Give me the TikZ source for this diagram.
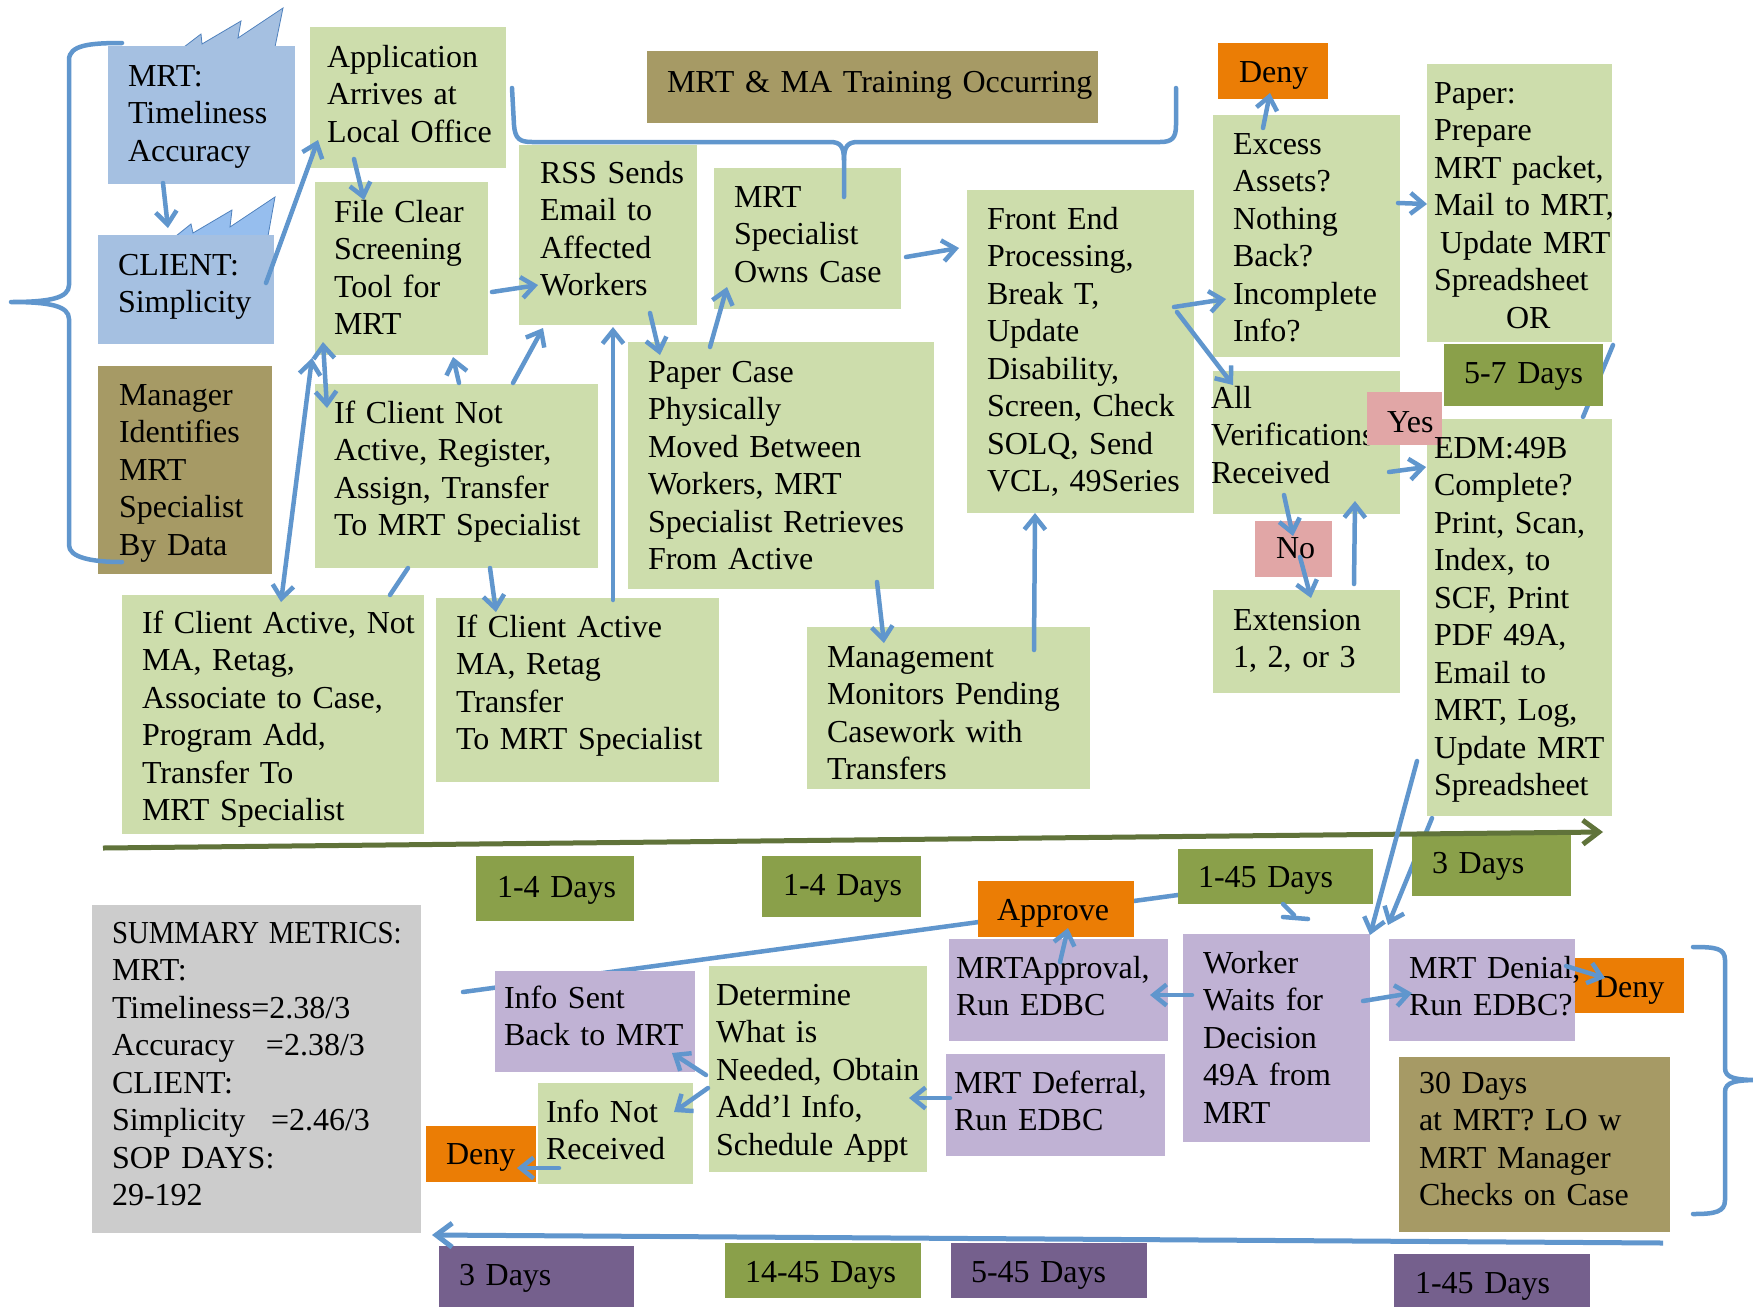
\documentclass[tikz,border=0pt]{standalone}
\usepackage{fontspec}
\setmainfont{Liberation Serif}
\usepackage{graphicx}
\usetikzlibrary{arrows.meta,fit}
\pgfdeclarelayer{under}
\pgfdeclarelayer{bg}
\pgfsetlayers{under,bg,main}
\hyphenpenalty=10000

\definecolor{lgreen}{RGB}{205,221,172}
\definecolor{lblue}{RGB}{165,192,225}
\definecolor{sblue}{RGB}{150,190,238}
\definecolor{eblue}{RGB}{79,129,189}
\definecolor{khaki}{RGB}{166,154,101}
\definecolor{orng}{RGB}{235,125,5}
\definecolor{pink}{RGB}{225,166,166}
\definecolor{dgreen}{RGB}{138,160,74}
\definecolor{lpurple}{RGB}{192,178,212}
\definecolor{dpurple}{RGB}{117,96,141}
\definecolor{lgray}{RGB}{204,204,204}
\definecolor{ablue}{RGB}{96,150,205}
\definecolor{tgreen}{RGB}{96,115,58}

% box given by two corners, text given by first baseline
\newcommand\bx[6]{\node[#1, fit={(#3,#4)(#5,#6)}] (#2) {};}
\newcommand\tx[4]{\node[txt] (#1) at (#2,#3) {#4};}
\newcommand\ar[5]{\draw[#1] ([shift={(#3)}]#2.north west) -- ([shift={(#5)}]#4.north west);}

\begin{document}
\begin{tikzpicture}[x=1pt,y=-1pt,
  panel/.style={rectangle, inner sep=0pt, outer sep=0pt, draw=none},
  gbox/.style={panel, fill=lgreen},
  bbox/.style={panel, fill=lblue},
  kbox/.style={panel, fill=khaki},
  obox/.style={panel, fill=orng},
  pkbox/.style={panel, fill=pink},
  dgbox/.style={panel, fill=dgreen},
  lpbox/.style={panel, fill=lpurple},
  dpbox/.style={panel, fill=dpurple},
  grbox/.style={panel, fill=lgray},
  txt/.style={inner sep=0pt, outer sep=0pt, anchor=base west, text width=700pt, align=left,
    font=\fontsize{32pt}{37.5pt}\selectfont},
  barb/.tip={Straight Barb[length=13pt,width=21pt]},
  bigbarb/.tip={Straight Barb[length=16pt,width=24pt]},
  arr/.style={draw=ablue, line width=4.5pt, line cap=round, line join=round, -barb},
  arr2/.style={draw=ablue, line width=4.5pt, line cap=round, line join=round, barb-barb},
  link/.style={draw=ablue, line width=4.5pt, line cap=round, line join=round},
  brace/.style={draw=ablue, line width=4.5pt, line cap=round, line join=round},
]
\useasboundingbox (0,0) rectangle (1753,1307);
\begin{pgfonlayer}{under}
  \fill[white] (0,0) rectangle (1753,1307);
\end{pgfonlayer}

% jagged tabs above the two blue rating boxes
\filldraw[fill=lblue, draw=eblue, line width=0.8pt]
  (184,47) -- (201,34) -- (202,44) -- (241,21) -- (238,38) -- (283,8) -- (275,47) -- cycle;
\filldraw[fill=sblue, draw=eblue, line width=0.8pt]
  (176,236) -- (191,224) -- (193,233) -- (232,210) -- (230,227) -- (275,197) -- (268,236) -- cycle;

% ---------- boxes ----------
\bx{bbox}{mrt}{108}{46}{295}{184}
\bx{bbox}{client}{98}{235}{274}{344}
\bx{kbox}{manager}{98}{366}{272}{574}
\bx{gbox}{app}{310}{27}{506}{168}
\bx{gbox}{fileclear}{315}{182}{488}{355}
\bx{gbox}{notactive}{315}{384}{598}{568}
\bx{gbox}{rss}{519}{145}{697}{325}
\bx{kbox}{training}{647}{51}{1098}{123}
\bx{gbox}{mrtspec}{714}{168}{901}{309}
\bx{gbox}{papercase}{628}{342}{934}{589}
\bx{gbox}{frontend}{967}{190}{1194}{513}
\bx{obox}{denytop}{1218}{43}{1328}{99}
\bx{gbox}{excess}{1213}{115}{1400}{357}
\bx{gbox}{paperbox}{1427}{64}{1612}{342}
\bx{dgbox}{days57}{1444}{344}{1603}{406}
\bx{gbox}{allverif}{1213}{371}{1400}{514}
\bx{gbox}{edm}{1427}{419}{1612}{816}
\bx{pkbox}{no}{1255}{521}{1332}{577}
\bx{gbox}{extension}{1213}{590}{1400}{693}
\bx{gbox}{activenotma}{122}{595}{424}{834}
\bx{gbox}{activema}{436}{598}{719}{782}
\bx{gbox}{mgmt}{807}{627}{1090}{789}
\bx{dgbox}{days14a}{476}{856}{634}{921}
\bx{dgbox}{days14b}{762}{856}{921}{917}
\bx{dgbox}{days145a}{1178}{849}{1373}{904}
\bx{dgbox}{days3a}{1412}{835}{1571}{896}
\bx{grbox}{summary}{92}{905}{421}{1233}
\bx{obox}{approve}{978}{881}{1134}{937}
\bx{lpbox}{mrtapproval}{949}{939}{1168}{1041}
\bx{lpbox}{worker}{1183}{934}{1370}{1142}
\bx{lpbox}{denial}{1389}{939}{1575}{1041}
\bx{obox}{denyr}{1575}{958}{1684}{1013}
\bx{kbox}{thirty}{1399}{1057}{1670}{1232}
\bx{lpbox}{deferral}{946}{1054}{1165}{1156}
\bx{gbox}{determine}{709}{966}{927}{1172}
\bx{lpbox}{infosent}{495}{971}{695}{1072}
\bx{gbox}{infonot}{538}{1083}{693}{1184}
\bx{obox}{denyl}{426}{1126}{536}{1182}
\bx{dpbox}{days3b}{439}{1246}{634}{1307}
\bx{dgbox}{days1445}{725}{1243}{921}{1298}
\bx{dpbox}{days545}{951}{1243}{1147}{1298}
\bx{dpbox}{days145b}{1394}{1254}{1590}{1307}

% ---------- texts ----------
\tx{mrt-t}{128}{86}{MRT:\\Timeliness\\Accuracy}
\tx{client-t}{118}{275}{CLIENT:\\Simplicity}
\tx{manager-t}{119}{405}{Manager\\Identifies\\MRT\\Specialist\\By Data}
\tx{app-t}{327}{67}{Application\\Arrives at\\Local Office}
\tx{fileclear-t}{334}{222}{File Clear\\Screening\\Tool for\\MRT}
\tx{notactive-t}{334}{423}{If Client Not\\Active, Register,\\Assign, Transfer\\To MRT Specialist}
\tx{rss-t}{540}{183}{RSS Sends\\Email to\\Affected\\Workers}
\tx{training-t}{667}{92}{MRT \& MA Training Occurring}
\tx{mrtspec-t}{734}{207}{MRT\\Specialist\\Owns Case}
\tx{papercase-t}{648}{382}{Paper Case\\Physically\\Moved Between\\Workers, MRT\\Specialist Retrieves\\From Active}
\tx{frontend-t}{987}{229}{Front End\\Processing,\\Break T,\\Update\\Disability,\\Screen, Check\\SOLQ, Send\\VCL, 49Series}
\tx{denytop-t}{1239}{82}{Deny}
\tx{excess-t}{1233}{154}{Excess\\Assets?\\Nothing\\Back?\\Incomplete\\Info?}
\tx{paperbox-t}{1434}{103}{Paper:\\Prepare\\MRT packet,\\Mail to MRT,\\\hspace*{6pt}Update MRT\\Spreadsheet\\\hspace*{72pt}OR}
\tx{days57-t}{1464}{383}{5-7 Days}
\tx{allverif-t}{1211}{408}{All\\Verifications\\Received}
\bx{pkbox}{yes}{1367}{392}{1442}{445}
\tx{yes-t}{1387}{432}{Yes}
\tx{edm-t}{1434}{458}{EDM:49B\\Complete?\\Print, Scan,\\Index, to\\SCF, Print\\PDF 49A,\\Email to\\MRT, Log,\\Update MRT\\Spreadsheet}
\tx{no-t}{1276}{558}{No}
\tx{extension-t}{1233}{630}{Extension\\1, 2, or 3}
\tx{activenotma-t}{142}{633}{If Client Active, Not\\MA, Retag,\\Associate to Case,\\Program Add,\\Transfer To\\MRT Specialist}
\tx{activema-t}{456}{637}{If Client Active\\MA, Retag\\Transfer\\To MRT Specialist}
\tx{mgmt-t}{827}{667}{Management\\Monitors Pending\\Casework with\\Transfers}
\tx{days14a-t}{497}{897}{1-4 Days}
\tx{days14b-t}{783}{895}{1-4 Days}
\tx{days145a-t}{1198}{887}{1-45 Days}
\tx{days3a-t}{1432}{873}{3 Days}
\tx{summary-t}{112}{943}{\scalebox{0.9}[1]{SUMMARY METRICS:}\\MRT:\\Timeliness=2.38/3\\\makebox[154pt][l]{Accuracy}=2.38/3\\CLIENT:\\\makebox[159pt][l]{Simplicity}=2.46/3\\SOP DAYS:\\29-192}
\tx{approve-t}{997}{920}{Approve}
\tx{mrtapproval-t}{956}{978}{MRTApproval,\\Run EDBC}
\tx{worker-t}{1203}{973}{Worker\\Waits for\\Decision\\49A from\\MRT}
\tx{denial-t}{1409}{978}{MRT Denial,\\Run EDBC?}
\tx{denyr-t}{1595}{997}{Deny}
\tx{thirty-t}{1419}{1093}{30 Days\\at MRT? LO w\\MRT Manager\\Checks on Case}
\tx{deferral-t}{954}{1093}{MRT Deferral,\\Run EDBC}
\tx{determine-t}{716}{1005}{Determine\\What is\\Needed, Obtain\\Add’l Info,\\Schedule Appt}
\tx{infosent-t}{504}{1008}{Info Sent\\Back to MRT}
\tx{infonot-t}{546}{1122}{Info Not\\Received}
\tx{denyl-t}{446}{1164}{Deny}
\tx{days3b-t}{459}{1285}{3 Days}
\tx{days1445-t}{745}{1282}{14-45 Days}
\tx{days545-t}{971}{1282}{5-45 Days}
\tx{days145b-t}{1415}{1293}{1-45 Days}

% ---------- connectors running behind boxes ----------
\begin{pgfonlayer}{bg}
  \ar{link}{infosent}{-32,21}{days145a}{22,43}
  \ar{link}{paperbox}{186,281}{edm}{156,-2}
  \ar{arr}{edm}{5,399}{worker}{205,-9}
\end{pgfonlayer}
\draw[link] ([shift={(105,55)}]days145a.north west) -- ([shift={(116,66)}]days145a.north west);
\draw[link] ([shift={(105,68)}]days145a.north west) -- ([shift={(130,70)}]days145a.north west);

% ---------- braces ----------
\draw[brace] (122,43) .. controls (90,43) and (69,45) .. (69,60) -- (69,285)
  .. controls (69,298) and (50,302) .. (11,302)
  .. controls (50,302) and (69,306) .. (69,319) -- (69,545)
  .. controls (69,557) and (90,562) .. (122,562);
\draw[brace] (512,88) -- (514,125) .. controls (515,139) and (520,142) .. (532,142) -- (830,142)
  .. controls (840,142) and (844,146) .. (844,160) -- (844,197);
\draw[brace] (844,160) .. controls (844,146) and (848,142) .. (858,142) -- (1160,142)
  .. controls (1172,142) and (1176,138) .. (1176,125) -- (1176,88);
\draw[brace] (1693,947) .. controls (1715,947) and (1725,948) .. (1725,960) -- (1725,1068)
  .. controls (1725,1078) and (1735,1080) .. (1760,1080)
  .. controls (1735,1080) and (1725,1082) .. (1725,1092) -- (1725,1200)
  .. controls (1725,1212) and (1715,1214) .. (1693,1214);

% ---------- time lines ----------
\coordinate (tlA) at (103,848);
\coordinate (tlB) at (1603,832);
\coordinate (tlC) at (1663,1243);
\coordinate (tlD) at (432,1235);
\draw[draw=tgreen, line width=5pt, -bigbarb] (tlA) -- (tlB);
\draw[draw=ablue, line width=5pt, -bigbarb] (tlC) -- (tlD);

% ---------- connectors ----------
\ar{arr}{mrt}{55,137}{client}{70,-7}
\ar{arr}{client}{168,48}{app}{8,113}
\ar{arr}{app}{44,132}{fileclear}{49,18}
\ar{arr}{fileclear}{177,110}{rss}{19,140}
\ar{arr2}{notactive}{12,24}{fileclear}{8,160}
\ar{arr}{notactive}{144,-1}{fileclear}{138,175}
\ar{arr}{notactive}{198,-1}{rss}{24,183}
\ar{arr2}{activenotma}{159,7}{fileclear}{-3,176}
\ar{link}{notactive}{93,184}{activenotma}{268,0}
\ar{arr}{notactive}{175,184}{activema}{60,14}
\ar{arr}{activema}{177,2}{rss}{94,182}
\ar{arr}{rss}{131,168}{papercase}{32,13}
\ar{arr}{papercase}{82,5}{mrtspec}{13,119}
\ar{arr}{mrtspec}{192,89}{frontend}{-8,58}
\ar{arr}{papercase}{249,240}{mgmt}{77,16}
\ar{arr}{mgmt}{227,23}{frontend}{68,323}
\ar{arr}{frontend}{207,117}{excess}{13,184}
\ar{arr}{frontend}{210,122}{allverif}{20,14}
\ar{arr}{excess}{50,13}{denytop}{52,50}
\ar{arr}{excess}{185,88}{paperbox}{0,140}
\ar{arr}{allverif}{176,101}{edm}{-1,48}
\ar{arr}{allverif}{71,124}{no}{38,15}
\ar{arr}{no}{45,36}{extension}{98,8}
\ar{arr}{extension}{141,-6}{allverif}{142,130}
\ar{arr}{edm}{-10,342}{worker}{187,1}
\ar{arr}{worker}{9,61}{mrtapproval}{201,56}
\ar{arr}{mrtapproval}{111,23}{approve}{90,47}
\ar{arr}{worker}{180,67}{denial}{23,54}
\ar{arr}{denial}{177,27}{denyr}{30,20}
\ar{arr}{deferral}{4,44}{determine}{200,132}
\ar{arr}{determine}{-3,109}{infosent}{177,82}
\ar{arr}{determine}{-1,122}{infonot}{136,29}
\ar{arr}{infonot}{21,85}{denyl}{91,42}
\end{tikzpicture}
\end{document}
